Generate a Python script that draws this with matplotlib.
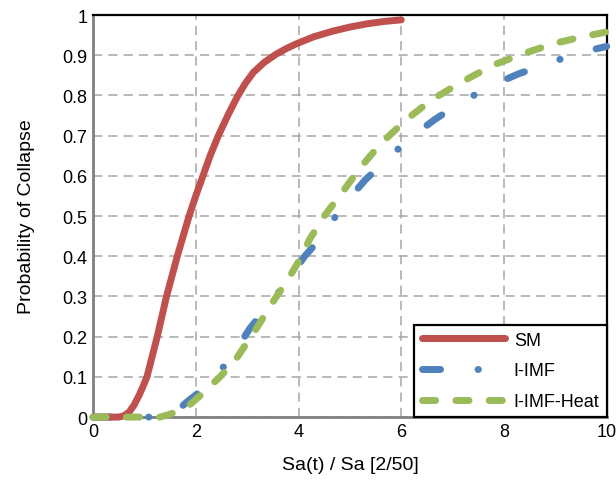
import matplotlib
matplotlib.use("Agg")
import matplotlib.pyplot as plt

plt.rcParams["font.family"] = ["Liberation Sans", "DejaVu Sans"]

# ------------------------------------------------------------------ #
# Data                                  #
# ------------------------------------------------------------------ #
sm_x = [0.0, 0.5, 0.6, 0.7, 0.8, 0.9, 0.97, 1.05, 1.15, 1.25, 1.43, 1.64, 1.87,
        2.0, 2.14, 2.28, 2.44, 2.63, 2.81, 2.97, 3.12, 3.33, 3.57, 3.77, 3.97,
        4.3, 4.67, 5.0, 5.33, 5.67, 6.0]
sm_y = [0.0, 0.0, 0.003, 0.012, 0.03, 0.055, 0.075, 0.10, 0.15, 0.20, 0.30, 0.40,
        0.50, 0.55, 0.60, 0.65, 0.70, 0.752, 0.797, 0.831, 0.857, 0.882, 0.903,
        0.917, 0.929, 0.946, 0.960, 0.970, 0.978, 0.984, 0.988]

imf_x = [0.0, 1.3, 1.6, 1.85, 2.0, 2.3, 2.7, 3.05, 3.3, 3.77, 4.12, 4.42, 4.86,
         5.3, 5.68, 6.13, 6.65, 7.14, 7.68, 8.27, 8.83, 9.43, 10.0]
imf_y = [0.0, 0.0, 0.012, 0.04, 0.055, 0.087, 0.15, 0.22, 0.26, 0.336, 0.40, 0.443,
         0.525, 0.59, 0.635, 0.69, 0.74, 0.78, 0.82, 0.853, 0.878, 0.905, 0.922]

heat_x = [0.0, 1.3, 1.5, 1.83, 2.1, 2.47, 2.76, 3.15, 3.5, 3.83, 4.03, 4.22, 4.5,
          4.8, 5.2, 5.6, 6.1, 6.6, 7.2, 7.8, 8.4, 9.0, 9.5, 10.0]
heat_y = [0.0, 0.0, 0.007, 0.025, 0.055, 0.10, 0.14, 0.214, 0.286, 0.35, 0.393, 0.443,
          0.50, 0.55, 0.62, 0.68, 0.74, 0.79, 0.835, 0.876, 0.905, 0.93, 0.945, 0.958]

labels = ["SM", "I-IMF", "I-IMF-Heat"]
colours = ["#C0504D", "#4F81BD", "#9BBB59"]

x_ticks = [0, 2, 4, 6, 8, 10]
y_ticks = [0, 0.1, 0.2, 0.3, 0.4, 0.5, 0.6, 0.7, 0.8, 0.9, 1]
y_tick_labels = ["0", "0.1", "0.2", "0.3", "0.4", "0.5", "0.6", "0.7", "0.8", "0.9", "1"]

# ------------------------------------------------------------------ #
# Plot                                                               #
# ------------------------------------------------------------------ #
fig = plt.figure(figsize=(6.16, 4.85), dpi=100)
ax = fig.add_axes([0.151, 0.138, 0.834, 0.829])

lw = 5.0
ax.plot(sm_x, sm_y, color=colours[0], lw=lw, solid_capstyle="round",
        solid_joinstyle="round", label=labels[0], clip_on=False, zorder=4)
ax.plot(imf_x, imf_y, color=colours[1], lw=lw, dash_capstyle="round",
        dashes=(2.6, 5.4, 0.05, 5.4), label=labels[1], clip_on=False, zorder=3)
ax.plot(heat_x, heat_y, color=colours[2], lw=lw, dash_capstyle="round",
        dashes=(1.9, 2.9), label=labels[2], clip_on=False, zorder=5)

ax.set_xlim(0, 10)
ax.set_ylim(0, 1)
ax.set_xticks(x_ticks)
ax.set_yticks(y_ticks)
ax.set_yticklabels(y_tick_labels)
ax.tick_params(length=0, labelsize=13, pad=4)

ax.grid(True, color="#A6A6A6", linestyle=(0, (6, 4)), linewidth=1.1)
ax.set_axisbelow(True)

for side in ["left", "bottom"]:
    ax.spines[side].set_color("#808080")
    ax.spines[side].set_linewidth(2)
for side in ["top", "right"]:
    ax.spines[side].set_color("black")
    ax.spines[side].set_linewidth(1.6)

ax.set_xlabel("Sa(t) / Sa [2/50]", fontsize=14, labelpad=12)
ax.set_ylabel("Probability of Collapse", fontsize=14, labelpad=20)

leg = ax.legend(loc="lower right", fontsize=13, borderaxespad=0, handlelength=4.6,
                handletextpad=0.5, labelspacing=0.75, fancybox=False, framealpha=1)
leg.get_frame().set_edgecolor("black")
leg.get_frame().set_linewidth(1.6)
leg.set_zorder(10)

plt.savefig("out.png", dpi=100)
